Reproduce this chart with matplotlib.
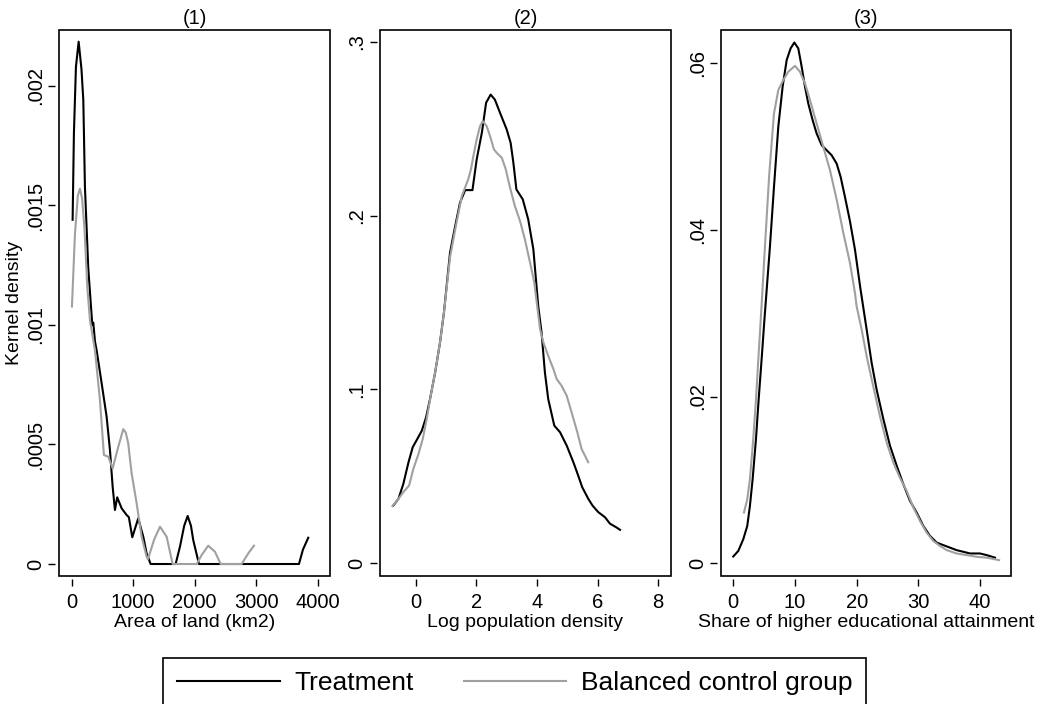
import matplotlib
matplotlib.use("Agg")
import matplotlib.pyplot as plt
from matplotlib.lines import Line2D
from matplotlib.patches import Rectangle

plt.rcParams['font.family'] = ['Liberation Sans', 'DejaVu Sans']

# panel (1): area of land
area_treat_x = [16, 37, 70, 114, 160, 190, 216, 270, 336, 352, 380, 406, 488, 569, 623, 667, 704,
                741, 813, 894, 930, 986, 1083, 1165, 1219, 1284, 1691, 1761, 1830, 1886, 1940, 1977,
                2070, 3696, 3760, 3847]
area_treat_y = [0.00144, 0.0018, 0.00208, 0.002185, 0.00207, 0.00194, 0.00158, 0.00124, 0.00100,
                0.00101, 0.00093, 0.000895, 0.000756, 0.000616, 0.000477, 0.000323, 0.000226,
                0.000279, 0.000233, 0.000205, 0.000196, 0.000112, 0.000191, 0.000114, 0.0000447,
                0, 0, 0.0000725, 0.00016, 0.000201, 0.00016, 0.0001, 0, 0, 0.00006, 0.00011]
area_ctrl_x = [5, 54, 100, 135, 170, 210, 254, 298, 379, 460, 525, 595, 667, 758, 839, 880, 920,
               975, 1057, 1138, 1219, 1240, 1290, 1338, 1436, 1545, 1642, 2033, 2114, 2221, 2330,
               2423, 2764, 2872, 2964]
area_ctrl_y = [0.001077, 0.00138, 0.00154, 0.00157, 0.00153, 0.00140, 0.00116, 0.00102, 0.000895,
               0.000686, 0.000456, 0.000449, 0.0004, 0.00049, 0.000564, 0.00055, 0.000505, 0.00038,
               0.000254, 0.000114, 0.0000305, 0.00002, 0.00006, 0.0001, 0.000156, 0.000114, 0, 0,
               0.0000377, 0.0000766, 0.0000515, 0, 0, 0.0000447, 0.0000766]

# panel (2): log population density
pop_treat_x = [-0.74, -0.57, -0.41, -0.24, -0.1, 0.05, 0.2, 0.34, 0.47, 0.64, 0.80, 0.93, 1.13,
               1.30, 1.46, 1.63, 1.87, 2.01, 2.18, 2.32, 2.47, 2.61, 2.78, 3.0, 3.13, 3.22, 3.32,
               3.53, 3.71, 3.88, 4.04, 4.15, 4.26, 4.37, 4.57, 4.76, 4.98, 5.2, 5.36, 5.49, 5.69,
               5.83, 6.02, 6.24, 6.41, 6.6, 6.74]
pop_treat_y = [0.0331, 0.037, 0.0456, 0.058, 0.0667, 0.0714, 0.0762, 0.0839, 0.0944, 0.1098,
               0.127, 0.1443, 0.1787, 0.194, 0.2075, 0.2147, 0.2147, 0.2324, 0.2477, 0.265,
               0.2697, 0.2668, 0.2592, 0.2496, 0.2419, 0.2305, 0.2151, 0.2094, 0.1979, 0.1806,
               0.148, 0.1328, 0.1098, 0.0944, 0.0791, 0.0753, 0.0676, 0.058, 0.0503, 0.0437,
               0.037, 0.0331, 0.0293, 0.0264, 0.0226, 0.0207, 0.0191]
pop_ctrl_x = [-0.77, -0.57, -0.41, -0.22, -0.08, 0.09, 0.23, 0.36, 0.51, 0.64, 0.80, 0.93, 1.13,
              1.30, 1.52, 1.73, 1.82, 1.9, 2.01, 2.12, 2.21, 2.34, 2.45, 2.58, 2.69, 2.84, 2.97,
              3.11, 3.27, 3.44, 3.6, 3.77, 3.91, 4.1, 4.21, 4.37, 4.54, 4.65, 4.81, 4.98, 5.14,
              5.33, 5.47, 5.69]
pop_ctrl_y = [0.0328, 0.037, 0.0408, 0.0446, 0.0542, 0.0628, 0.0714, 0.0829, 0.098, 0.1098,
              0.127, 0.1443, 0.176, 0.192, 0.2113, 0.2209, 0.2266, 0.2343, 0.2439, 0.2515,
              0.2544, 0.2515, 0.2458, 0.2381, 0.2358, 0.2333, 0.2266, 0.2161, 0.2055, 0.1969,
              0.1864, 0.173, 0.1615, 0.1347, 0.127, 0.1193, 0.1117, 0.1059, 0.1021, 0.0963,
              0.0868, 0.0753, 0.0657, 0.058]

# panel (3): share of higher educational attainment
edu_treat_x = [0, 0.81, 1.62, 2.27, 2.7, 3.14, 3.68, 4.11, 4.6, 5.03, 5.95, 6.6, 7.3, 8.0, 8.66,
               9.3, 9.9, 10.54, 11.09, 11.63, 12.16, 12.87, 13.52, 14.33, 15.14, 15.95, 16.76,
               17.41, 18.11, 18.92, 19.73, 20.6, 21.63, 22.44, 23.25, 24.33, 25.41, 26.5, 27.57,
               28.65, 29.74, 30.81, 31.9, 32.98, 34.05, 35.14, 36.2, 37.3, 38.38, 40.0, 41.1, 42.43]
edu_treat_y = [0.00084, 0.0015, 0.0029, 0.0045, 0.0069, 0.0101, 0.0149, 0.0196, 0.0245, 0.029,
               0.038, 0.0451, 0.0523, 0.0571, 0.0603, 0.0617, 0.0624, 0.0617, 0.0595, 0.0571,
               0.0551, 0.0531, 0.0515, 0.0501, 0.0495, 0.0489, 0.0479, 0.0463, 0.0439, 0.041,
               0.0376, 0.033, 0.028, 0.024, 0.0208, 0.0173, 0.0141, 0.0117, 0.0095, 0.0075,
               0.0061, 0.0045, 0.0033, 0.0025, 0.0022, 0.0019, 0.0016, 0.0014, 0.0012, 0.0012,
               0.001, 0.0007]
edu_ctrl_x = [1.73, 2.27, 2.7, 3.24, 3.68, 4.05, 4.6, 5.14, 5.84, 6.6, 7.3, 8.1, 8.92, 10.0,
              10.81, 11.63, 12.44, 13.52, 14.6, 15.68, 16.76, 17.84, 18.92, 19.73, 20.0, 20.82,
              21.63, 22.7, 23.79, 24.87, 25.94, 27.0, 28.1, 29.2, 30.27, 31.35, 32.43, 33.52,
              34.6, 36.2, 37.85, 39.47, 41.1, 43.1]
edu_ctrl_y = [0.0061, 0.0077, 0.0101, 0.0149, 0.0196, 0.0243, 0.031, 0.038, 0.0467, 0.0539,
              0.0567, 0.0579, 0.0589, 0.0596, 0.0589, 0.0575, 0.0555, 0.0527, 0.0499, 0.0471,
              0.0436, 0.0396, 0.036, 0.0324, 0.0308, 0.028, 0.0248, 0.0212, 0.0176, 0.0145,
              0.0121, 0.0103, 0.0087, 0.0067, 0.0051, 0.0037, 0.0027, 0.0021, 0.0016, 0.0012,
              0.001, 0.0008, 0.0007, 0.0004]

titles = ['(1)', '(2)', '(3)']
xlabels = ['Area of land (km2)', 'Log population density', 'Share of higher educational attainment']
xticks = [[0, 1000, 2000, 3000, 4000], [0, 2, 4, 6, 8], [0, 10, 20, 30, 40]]
yticks = [[0, 0.0005, 0.001, 0.0015, 0.002], [0, 0.1, 0.2, 0.3], [0, 0.02, 0.04, 0.06]]
yticklabels = [['0', '.0005', '.001', '.0015', '.002'], ['0', '.1', '.2', '.3'],
               ['0', '.02', '.04', '.06']]
legend_labels = ['Treatment', 'Balanced control group']

BLACK = '#000000'
GRAY = '#a0a0a0'

fig = plt.figure(figsize=(10.38, 7.04), dpi=100)
positions = [[0.0568, 0.1818, 0.2611, 0.7756],
             [0.3661, 0.1818, 0.2803, 0.7756],
             [0.6943, 0.1818, 0.2797, 0.7756]]
limits = [((-206, 4200), (-0.0000502, 0.002234)),
          ((-1.18, 8.42), (-0.0075, 0.3069)),
          ((-2.04, 45.03), (-0.0015, 0.0639))]
series = [(area_treat_x, area_treat_y, area_ctrl_x, area_ctrl_y),
          (pop_treat_x, pop_treat_y, pop_ctrl_x, pop_ctrl_y),
          (edu_treat_x, edu_treat_y, edu_ctrl_x, edu_ctrl_y)]

for i in range(3):
    ax = fig.add_axes(positions[i])
    # ticks sit slightly away from the plot box, as in Stata
    for s in ax.spines.values():
        s.set_color('none')
    ax.spines['left'].set_position(('outward', 2.5))
    ax.spines['bottom'].set_position(('outward', 2.5))

    tx, ty, cx, cy = series[i]
    ax.plot(tx, ty, color=BLACK, lw=1.5)
    ax.plot(cx, cy, color=GRAY, lw=1.5)
    ax.set_xlim(limits[i][0])
    ax.set_ylim(limits[i][1])
    ax.set_xticks(xticks[i])
    ax.set_xticklabels([str(v) for v in xticks[i]])
    ax.set_yticks(yticks[i])
    ax.set_yticklabels(yticklabels[i])
    ax.tick_params(direction='out', length=5, width=1, labelsize=14.5, pad=5)
    ax.tick_params(axis='y', labelrotation=90, pad=2.5)
    for lab in ax.get_yticklabels():
        lab.set_va('center')
    ax.add_patch(Rectangle((0, 0), 1, 1, transform=ax.transAxes, fill=False,
                           ec='black', lw=1.2, clip_on=False, zorder=5))
    ax.set_title(titles[i], fontsize=14.5, pad=4)
    ax.set_xlabel(xlabels[i], fontsize=14, labelpad=1)
    if i == 0:
        ax.set_ylabel('Kernel density', fontsize=14)
        ax.yaxis.set_label_coords(-0.133, 0.5)

handles = [Line2D([], [], color=BLACK, lw=1.5), Line2D([], [], color=GRAY, lw=1.5)]
leg = fig.legend(handles, legend_labels, loc='upper center', bbox_to_anchor=(0.4957, 1 - 658 / 704),
                 ncol=2, fontsize=19, frameon=True, fancybox=False, edgecolor='black',
                 framealpha=1, handlelength=3.9, handletextpad=0.55, columnspacing=1.9,
                 borderpad=0.5, borderaxespad=0)
leg.get_frame().set_linewidth(1.2)

fig.savefig('out.png', dpi=100)
